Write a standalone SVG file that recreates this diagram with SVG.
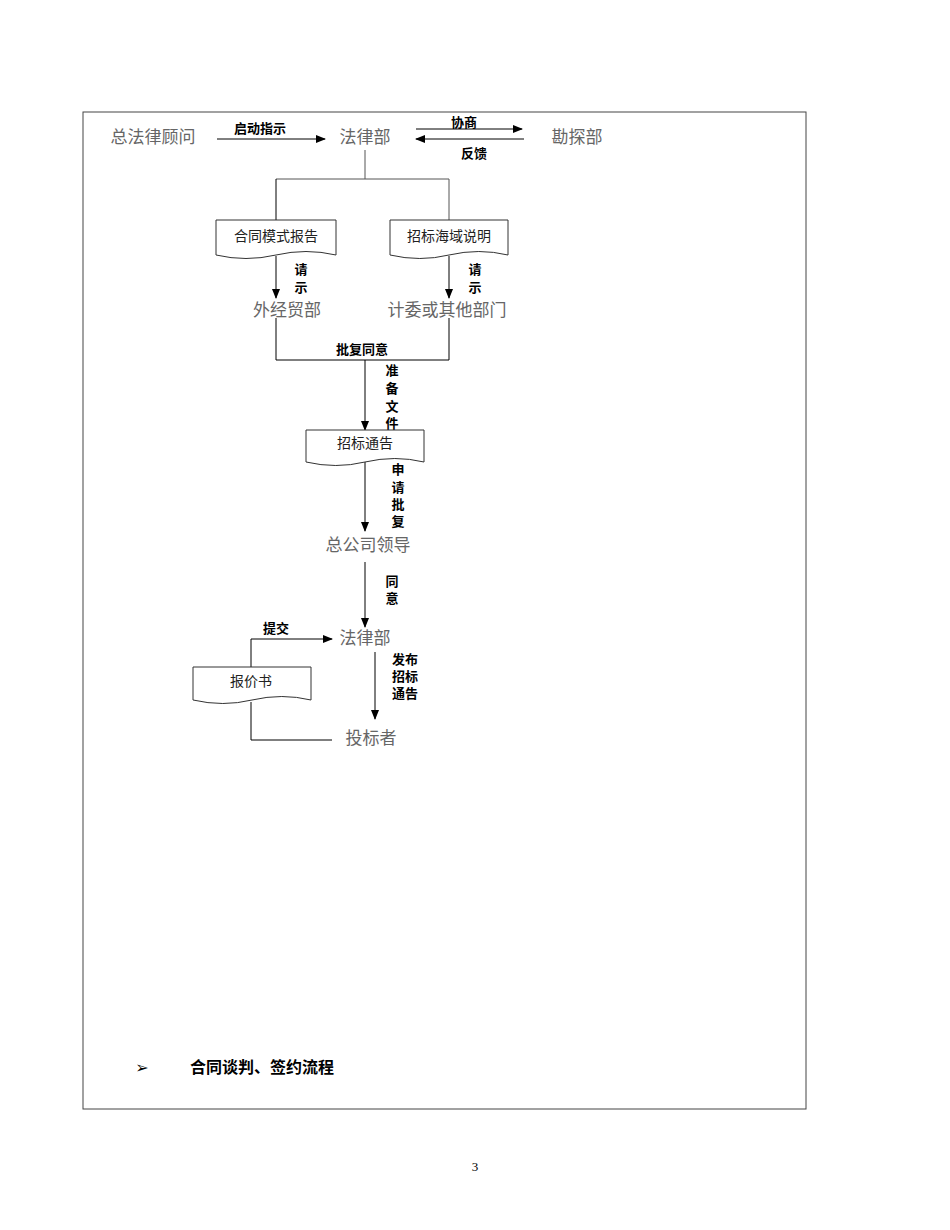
<svg xmlns="http://www.w3.org/2000/svg" width="950" height="1230" viewBox="0 0 950 1230">
<defs>
<marker id="ah" markerWidth="10" markerHeight="8" refX="9" refY="4" orient="auto" markerUnits="userSpaceOnUse"><path d="M0,0 L10,4 L0,8 Z" fill="#000"/></marker>
<style>
.n{font-family:"Liberation Serif","Noto Sans CJK SC",serif;font-size:17px;fill:#666;text-anchor:middle}
.d{font-family:"Liberation Serif","Noto Sans CJK SC",serif;font-size:14px;fill:#222;text-anchor:middle}
.l{font-family:"Liberation Sans","Noto Sans CJK SC",sans-serif;font-size:13px;font-weight:bold;fill:#000;text-anchor:middle}
.ln{stroke:#000;stroke-width:1;fill:none}
.g{stroke:#555;stroke-width:1;fill:none}
.doc{stroke:#333;stroke-width:1;fill:#fff}
</style>
</defs>
<rect x="0" y="0" width="950" height="1230" fill="#fff"/>
<rect x="83" y="112" width="723" height="997" fill="none" stroke="#444"/>
<g id="connectors">
<line class="ln" x1="217" y1="139" x2="325" y2="139" marker-end="url(#ah)"/>
<line class="ln" x1="416" y1="129" x2="522" y2="129" marker-end="url(#ah)"/>
<line class="ln" x1="524" y1="139" x2="416" y2="139" marker-end="url(#ah)"/>
<path class="g" d="M365,150 V179 M276,179 H449 M449,179 V220"/>
<line class="ln" x1="276" y1="179" x2="276" y2="220"/>
<line class="ln" x1="276" y1="256" x2="276" y2="298" marker-end="url(#ah)"/>
<line class="ln" x1="449" y1="256" x2="449" y2="298" marker-end="url(#ah)"/>
<path class="ln" d="M276,318 V360 H449 V318"/>
<line class="ln" x1="365" y1="360" x2="365" y2="430" marker-end="url(#ah)"/>
<line class="ln" x1="365" y1="462" x2="365" y2="531" marker-end="url(#ah)"/>
<line class="ln" x1="365" y1="562" x2="365" y2="627" marker-end="url(#ah)"/>
<path class="ln" d="M251,667 V639 H332" marker-end="url(#ah)"/>
<path class="ln" d="M251,702 V740 H332"/>
<line class="ln" x1="375" y1="652" x2="375" y2="719" marker-end="url(#ah)"/>
</g>
<g id="labels">
<text class="l" x="260" y="133">启动指示</text>
<text class="l" x="464" y="127">协商</text>
<text class="l" x="474" y="158">反馈</text>
<text class="l" x="301" y="274">请</text><text class="l" x="301" y="292">示</text>
<text class="l" x="475" y="274">请</text><text class="l" x="475" y="292">示</text>
<text class="l" x="362" y="354">批复同意</text>
<text class="l" x="392" y="375">准</text><text class="l" x="392" y="393">备</text><text class="l" x="392" y="411">文</text><text class="l" x="392" y="428">件</text>
<text class="l" x="398" y="474">申</text><text class="l" x="398" y="492">请</text><text class="l" x="398" y="509">批</text><text class="l" x="398" y="526">复</text>
<text class="l" x="392" y="586">同</text><text class="l" x="392" y="603">意</text>
<text class="l" x="276" y="633">提交</text>
<text class="l" x="405" y="664">发布</text><text class="l" x="405" y="681">招标</text><text class="l" x="405" y="698">通告</text>
</g>
<g id="n1"><text class="n" x="153" y="143">总法律顾问</text></g>
<g id="n2"><text class="n" x="365" y="143">法律部</text></g>
<g id="n3"><text class="n" x="577" y="143">勘探部</text></g>
<g id="d1"><path class="doc" d="M216,220 H336 V255 Q306,248 276,255 Q246,262 216,255 Z"/><text class="d" x="276" y="241">合同模式报告</text></g>
<g id="d2"><path class="doc" d="M390,220 H508 V255 Q479,248 449,255 Q420,262 390,255 Z"/><text class="d" x="449" y="241">招标海域说明</text></g>
<g id="n4"><text class="n" x="287" y="316">外经贸部</text></g>
<g id="n5"><text class="n" x="447" y="316">计委或其他部门</text></g>
<g id="d3"><path class="doc" d="M306,430 H424 V462 Q395,455 365,462 Q336,469 306,462 Z"/><text class="d" x="365" y="448">招标通告</text></g>
<g id="n6"><text class="n" x="368" y="551">总公司领导</text></g>
<g id="n7"><text class="n" x="365" y="644">法律部</text></g>
<g id="d4"><path class="doc" d="M193,667 H311 V700 Q282,693 252,700 Q223,707 193,700 Z"/><text class="d" x="251" y="686">报价书</text></g>
<g id="n8"><text class="n" x="371" y="744">投标者</text></g>
<text x="142" y="1073" font-family="DejaVu Sans,sans-serif" font-size="16" text-anchor="middle">➢</text>
<text x="190" y="1073" font-family="Liberation Sans,Noto Sans CJK SC,sans-serif" font-size="16" font-weight="bold">合同谈判、签约流程</text>
<text x="475" y="1171" font-family="Liberation Serif,serif" font-size="13" text-anchor="middle">3</text>
</svg>
